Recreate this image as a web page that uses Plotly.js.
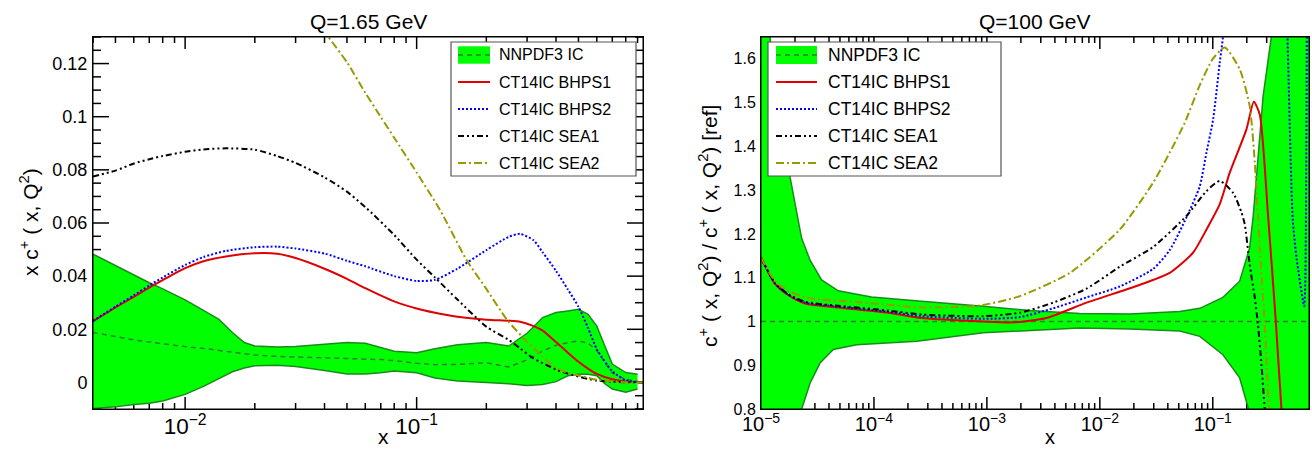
<!DOCTYPE html>
<html><head><meta charset="utf-8">
<script src="https://cdn.plot.ly/plotly-3.0.1.min.js"></script>
<style>html,body{margin:0;padding:0;background:#fff}#chart{width:1312px;height:449px}</style>
</head><body><div id="chart"></div>
<script>
// ================= DATA =================
const legendNames = ['NNPDF3 IC', 'CT14IC BHPS1', 'CT14IC BHPS2', 'CT14IC SEA1', 'CT14IC SEA2'];
const panelTitles = ['Q=1.65 GeV', 'Q=100 GeV'];

// ---- Left panel: x c+(x,Q^2) at Q = 1.65 GeV ----
const xBandLeft = [0.004, 0.005, 0.006, 0.007, 0.008, 0.01, 0.012, 0.014, 0.016, 0.018, 0.02, 0.025, 0.03, 0.04, 0.05, 0.06, 0.07, 0.08, 0.1, 0.12, 0.15, 0.2, 0.25, 0.3, 0.35, 0.4, 0.45, 0.5, 0.55, 0.6, 0.65, 0.7, 0.8, 0.9];
const nnpdfUpperLeft = [0.0483, 0.0440, 0.0404, 0.0375, 0.0352, 0.0311, 0.0271, 0.0237, 0.0188, 0.0150, 0.0137, 0.0133, 0.0135, 0.0143, 0.0150, 0.0147, 0.0131, 0.0117, 0.0112, 0.0127, 0.0142, 0.0150, 0.0137, 0.0185, 0.0244, 0.0263, 0.0269, 0.0275, 0.0256, 0.0212, 0.0137, 0.0069, 0.0037, 0.0031];
const nnpdfLowerLeft = [-0.0098, -0.0092, -0.0083, -0.0078, -0.0070, -0.0045, -0.0015, 0.0013, 0.0040, 0.0054, 0.0063, 0.0065, 0.0060, 0.0045, 0.0032, 0.0032, 0.0036, 0.0043, 0.0036, 0.0017, 0.0005, 0.0000, -0.0005, -0.0012, -0.0008, 0.0003, 0.0025, 0.0031, 0.0031, 0.0025, -0.0005, -0.0025, -0.0037, -0.0025];
const nnpdfCentralLeft = [0.0188, 0.0172, 0.0160, 0.0152, 0.0145, 0.0135, 0.0128, 0.0120, 0.0112, 0.0107, 0.0103, 0.0098, 0.0096, 0.0094, 0.0092, 0.0090, 0.0086, 0.0082, 0.0072, 0.0067, 0.0068, 0.0074, 0.0058, 0.0085, 0.0118, 0.0140, 0.0150, 0.0156, 0.0148, 0.0120, 0.0075, 0.0035, 0.0012, 0.0005];

const xCurveLeft = [0.004, 0.005, 0.006, 0.007, 0.008, 0.01, 0.012, 0.015, 0.02, 0.025, 0.03, 0.04, 0.05, 0.06, 0.08, 0.1, 0.12, 0.15, 0.2, 0.25, 0.28, 0.32, 0.35, 0.4, 0.45, 0.5, 0.55, 0.6, 0.7, 0.8, 0.95];
const bhps1Left = [0.0231, 0.0282, 0.0322, 0.0357, 0.0385, 0.0430, 0.0456, 0.0474, 0.0486, 0.0484, 0.0468, 0.0428, 0.0390, 0.0355, 0.0305, 0.0278, 0.0262, 0.0247, 0.0236, 0.0232, 0.0228, 0.0212, 0.0195, 0.0152, 0.0112, 0.0078, 0.0052, 0.0032, 0.0012, 0.0004, 0.0000];
const bhps2Left = [0.0231, 0.0285, 0.0328, 0.0365, 0.0395, 0.0442, 0.0472, 0.0495, 0.0509, 0.0511, 0.0504, 0.0485, 0.0458, 0.0437, 0.0400, 0.0382, 0.0386, 0.0428, 0.0498, 0.0548, 0.0559, 0.0535, 0.0490, 0.0420, 0.0350, 0.0285, 0.0205, 0.0125, 0.0042, 0.0008, 0.0000];
const sea1Left = [0.0775, 0.0797, 0.0824, 0.0840, 0.0852, 0.0868, 0.0877, 0.0881, 0.0876, 0.0852, 0.0826, 0.0772, 0.0718, 0.0660, 0.0555, 0.0462, 0.0395, 0.0312, 0.0210, 0.0160, 0.0128, 0.0090, 0.0073, 0.0048, 0.0033, 0.0022, 0.0013, 0.0007, 0.0003, 0.0001, 0.0000];
const xSea2Left = [0.03, 0.035, 0.0416, 0.05, 0.06, 0.07, 0.08, 0.1, 0.126, 0.164, 0.2, 0.245, 0.302, 0.35, 0.389, 0.45, 0.508, 0.6, 0.7, 0.8, 0.95];
const sea2Left = [0.148, 0.1395, 0.130, 0.1205, 0.109, 0.0999, 0.0921, 0.0790, 0.0650, 0.0462, 0.0352, 0.0237, 0.0150, 0.0098, 0.0062, 0.0035, 0.0025, 0.0010, 0.0004, 0.0001, 0.0000];

// ---- Right panel: c+(x,Q^2)/c+(x,Q^2)[ref] at Q = 100 GeV ----
const xUpperRight = [1.0e-5, 1.2e-5, 1.41e-5, 1.81e-5, 2.14e-5, 2.29e-5, 2.72e-5, 3.44e-5, 4.83e-5, 9.5e-5, 2.64e-4, 9.3e-4, 2.4e-3, 6.65e-3, 0.0184, 0.051, 0.0767, 0.123, 0.173, 0.212, 0.228, 0.251, 0.279, 0.331, 0.5, 0.711];
const nnpdfUpperRight = [1.82, 1.653, 1.50, 1.329, 1.233, 1.19, 1.14, 1.095, 1.07, 1.056, 1.046, 1.035, 1.025, 1.018, 1.017, 1.023, 1.030, 1.055, 1.092, 1.168, 1.241, 1.363, 1.515, 1.653, 2.2, 2.5];
const xLowerRight = [1.0e-5, 1.78e-5, 2.29e-5, 2.72e-5, 3.33e-5, 4.37e-5, 7.03e-5, 2.4e-4, 9.29e-4, 2.4e-3, 6.65e-3, 0.0184, 0.051, 0.0767, 0.123, 0.173, 0.206, 0.251, 0.711];
const nnpdfLowerRight = [0.2, 0.65, 0.8, 0.859, 0.905, 0.936, 0.947, 0.955, 0.974, 0.980, 0.985, 0.983, 0.978, 0.966, 0.924, 0.871, 0.802, 0.5, 0.3];
const xCentralRight = [1e-5, 1e-4, 1e-3, 1e-2, 0.1, 0.711];
const nnpdfCentralRight = [1, 1, 1, 1, 1, 1];

const xBhps1Right = [1e-5, 1.33e-5, 1.75e-5, 2.45e-5, 4.83e-5, 1.34e-4, 2.64e-4, 9.33e-4, 1.71e-3, 3.37e-3, 7.62e-3, 2.11e-2, 4.16e-2, 6.68e-2, 8.79e-2, 0.1153, 0.1413, 0.1986, 0.2307, 0.2606, 0.309, 0.3614, 0.4055, 0.501];
const bhps1Right = [1.146, 1.086, 1.060, 1.041, 1.032, 1.020, 1.008, 1.000, 0.998, 1.008, 1.043, 1.081, 1.111, 1.157, 1.210, 1.268, 1.340, 1.439, 1.502, 1.473, 1.240, 1.000, 0.800, 0.500];
const xBhps2Right = [1e-5, 1.33e-5, 1.75e-5, 2.45e-5, 4.83e-5, 1.34e-4, 2.64e-4, 9.33e-4, 1.96e-3, 3.86e-3, 7.62e-3, 1.5e-2, 2.96e-2, 4.16e-2, 5.85e-2, 7.67e-2, 8.79e-2, 0.1007, 0.1153, 0.1233, 0.1585, 0.2512, 0.398, 0.458, 0.5105, 0.5534, 0.631, 0.6457, 0.6607, 0.673, 0.684];
const bhps2Right = [1.146, 1.087, 1.061, 1.043, 1.034, 1.022, 1.012, 1.006, 1.010, 1.030, 1.055, 1.080, 1.120, 1.163, 1.238, 1.309, 1.386, 1.462, 1.592, 1.653, 2.2, 3.0, 2.2, 1.653, 1.233, 1.142, 1.045, 1.035, 1.10, 1.40, 1.80];
const xSea1Right = [1e-5, 1.33e-5, 1.75e-5, 2.45e-5, 4.83e-5, 1.34e-4, 2.64e-4, 9.33e-4, 1.96e-3, 3.86e-3, 7.62e-3, 1.5e-2, 2.96e-2, 5.85e-2, 8.79e-2, 0.1153, 0.1514, 0.1795, 0.1919, 0.2123, 0.2355, 0.2512, 0.2698, 0.2884, 0.3548];
const sea1Right = [1.146, 1.088, 1.062, 1.045, 1.036, 1.025, 1.016, 1.012, 1.020, 1.043, 1.075, 1.125, 1.170, 1.241, 1.298, 1.321, 1.294, 1.249, 1.222, 1.130, 1.054, 0.993, 0.901, 0.800, 0.500];
const xSea2Right = [1e-5, 1.33e-5, 1.75e-5, 2.45e-5, 3.44e-5, 6.79e-5, 2.64e-4, 8.91e-4, 1.96e-3, 5.43e-3, 1.5e-2, 2.96e-2, 4.16e-2, 5.65e-2, 7.67e-2, 0.1, 0.1276, 0.1734, 0.2123, 0.2355, 0.2512, 0.2606, 0.2884, 0.3148, 0.398];
const sea2Right = [1.146, 1.092, 1.070, 1.055, 1.050, 1.045, 1.032, 1.037, 1.058, 1.111, 1.210, 1.317, 1.386, 1.454, 1.540, 1.600, 1.626, 1.576, 1.492, 1.363, 1.241, 1.168, 0.993, 0.800, 0.500];

// ================= STYLE =================
const FONT = 'Liberation Sans, Arial, Helvetica, sans-serif';
const W = 1312, H = 449, TOP = 37, BOTTOM = 40;
const PLOT_H = H - TOP - BOTTOM;
const GREEN = '#00ff00', EDGE = '#1a8c1a', CENTRAL = '#2f7f2f';
const RED = '#e00000', BLUE = '#0000ff', BLACK = '#000000', OLIVE = '#999900';
const DASH = {
  central: '5px,4px',
  bhps1: 'solid',
  bhps2: '2px,2px',
  sea1: '6px,3px,2px,3px,2px,3px',
  sea2: '8px,3px,2px,3px'
};
const COLORS = [GREEN, RED, BLUE, BLACK, OLIVE];
const DASHES = [DASH.central, DASH.bhps1, DASH.bhps2, DASH.sea1, DASH.sea2];

const leftPx = [93, 643], rightPx = [761, 1309];
const leftXRange = [Math.log10(0.004), Math.log10(0.95)], leftYRange = [-0.01, 0.13];
const rightXRange = [-5, Math.log10(0.711)], rightYRange = [0.8, 1.65];

function band(xl, lo, xu, up, xc, ce, xa, ya) {
  return [
    {x: xl, y: lo, xaxis: xa, yaxis: ya, mode: 'lines', line: {color: EDGE, width: 1.5}, showlegend: false, hoverinfo: 'skip'},
    {x: xu, y: up, xaxis: xa, yaxis: ya, mode: 'lines', fill: 'tonexty', fillcolor: GREEN, line: {color: EDGE, width: 1.5}, showlegend: false, hoverinfo: 'skip'},
    {x: xc, y: ce, xaxis: xa, yaxis: ya, mode: 'lines', line: {color: CENTRAL, width: 1.5, dash: DASH.central}, showlegend: false, hoverinfo: 'skip'}
  ];
}
function curve(x, y, color, dash, xa, ya) {
  return {x: x, y: y, xaxis: xa, yaxis: ya, mode: 'lines', line: {color: color, width: 2, dash: dash, shape: 'spline', smoothing: 0.6}, showlegend: false, hoverinfo: 'skip'};
}

// ---- ROOT-style tick marks (inside, all four sides), drawn before the band so the band hides them ----
function logTicks(lo, hi) {
  const major = [], minor = [];
  for (let e = Math.floor(Math.log10(lo)); e <= Math.ceil(Math.log10(hi)); e++) {
    for (let d = 1; d <= 9; d++) {
      const v = d * Math.pow(10, e);
      if (v < lo * 0.999 || v > hi * 1.001) continue;
      (d === 1 ? major : minor).push(v);
    }
  }
  return {major, minor};
}
function linTicks(iLo, iHi, step, every) {
  const major = [], minor = [];
  for (let i = iLo; i <= iHi; i++) ((i % every === 0) ? major : minor).push(+(i * step).toFixed(4));
  return {major, minor};
}
function tickTrace(xa, ya, plotPx, xRange, yRange, xt, yt) {
  const wpx = plotPx[1] - plotPx[0];
  const perPxX = (xRange[1] - xRange[0]) / wpx;
  const perPxY = (yRange[1] - yRange[0]) / PLOT_H;
  const xs = [], ys = [];
  [[xt.major, 12], [xt.minor, 6]].forEach(([vals, len]) => vals.forEach(v => {
    xs.push(v, v, null, v, v, null);
    ys.push(yRange[0], yRange[0] + len * perPxY, null, yRange[1], yRange[1] - len * perPxY, null);
  }));
  const xl = Math.pow(10, xRange[0]), xh = Math.pow(10, xRange[1]);
  [[yt.major, 16], [yt.minor, 8]].forEach(([vals, len]) => vals.forEach(v => {
    xs.push(xl, Math.pow(10, xRange[0] + len * perPxX), null, xh, Math.pow(10, xRange[1] - len * perPxX), null);
    ys.push(v, v, null, v, v, null);
  }));
  return {x: xs, y: ys, xaxis: xa, yaxis: ya, mode: 'lines', line: {color: '#000', width: 1.5}, connectgaps: false,
    showlegend: false, hoverinfo: 'skip'};
}

const traces = [].concat(
  [tickTrace('x', 'y', leftPx, leftXRange, leftYRange, logTicks(0.004, 0.95), linTicks(-2, 26, 0.005, 4))],
  band(xBandLeft, nnpdfLowerLeft, xBandLeft, nnpdfUpperLeft, xBandLeft, nnpdfCentralLeft, 'x', 'y'),
  [curve(xCurveLeft, bhps1Left, RED, DASH.bhps1, 'x', 'y'),
   curve(xCurveLeft, bhps2Left, BLUE, DASH.bhps2, 'x', 'y'),
   curve(xCurveLeft, sea1Left, BLACK, DASH.sea1, 'x', 'y'),
   curve(xSea2Left, sea2Left, OLIVE, DASH.sea2, 'x', 'y')],
  [tickTrace('x2', 'y2', rightPx, rightXRange, rightYRange, logTicks(1e-5, 0.711), linTicks(40, 82, 0.02, 5))],
  band(xLowerRight, nnpdfLowerRight, xUpperRight, nnpdfUpperRight, xCentralRight, nnpdfCentralRight, 'x2', 'y2'),
  [curve(xBhps1Right, bhps1Right, RED, DASH.bhps1, 'x2', 'y2'),
   curve(xBhps2Right, bhps2Right, BLUE, DASH.bhps2, 'x2', 'y2'),
   curve(xSea1Right, sea1Right, BLACK, DASH.sea1, 'x2', 'y2'),
   curve(xSea2Right, sea2Right, OLIVE, DASH.sea2, 'x2', 'y2')]
);

function xAxis(domain, range, fontSize, anchor) {
  return {type: 'log', domain: domain, range: range, anchor: anchor, dtick: 1, exponentformat: 'power',
    showgrid: false, zeroline: false, showline: true, linecolor: '#000', linewidth: 1, mirror: true,
    ticks: '', ticklabelstandoff: -2,
    tickfont: {family: FONT, size: fontSize, color: '#000'}};
}
function yAxis(range, dtick, fontSize, anchor) {
  return {range: range, anchor: anchor, domain: [0, 1], dtick: dtick, showgrid: false, zeroline: false,
    showline: true, linecolor: '#000', linewidth: 1, mirror: true, ticks: '', ticklabelstandoff: 1,
    tickfont: {family: FONT, size: fontSize, color: '#000'}};
}

const px2paper = p => p / W;
const py2paper = p => (H - BOTTOM - p) / PLOT_H;
const shapes = [], annotations = [];

function frame(xr, yr) {
  shapes.push({type: 'rect', xref: xr, yref: yr, x0: 0, x1: 1, y0: 0, y1: 1, line: {color: '#000', width: 1}, fillcolor: 'rgba(0,0,0,0)', layer: 'above'});
}
function legend(xr, yr, plotPx, box, sample, textX, boxHalfH, fontSize) {
  const wpx = plotPx[1] - plotPx[0];
  const dx = p => (p - plotPx[0]) / wpx;
  const dy = p => (H - BOTTOM - p) / PLOT_H;
  shapes.push({type: 'rect', xref: xr, yref: yr, x0: dx(box[0]), x1: dx(box[1]), y0: dy(box[3]), y1: dy(box[2]),
    fillcolor: '#fff', line: {color: '#555', width: 1.2}, layer: 'above'});
  const rows = [55, 82, 109, 136, 163];
  legendNames.forEach((name, i) => {
    const yy = dy(rows[i]);
    if (i === 0) {
      shapes.push({type: 'rect', xref: xr, yref: yr, x0: dx(sample[0]), x1: dx(sample[1]), y0: dy(rows[i] + boxHalfH), y1: dy(rows[i] - boxHalfH),
        fillcolor: GREEN, line: {width: 0}, layer: 'above'});
      shapes.push({type: 'line', xref: xr, yref: yr, x0: dx(sample[0]), x1: dx(sample[1]), y0: yy, y1: yy,
        line: {color: CENTRAL, width: 1.5, dash: DASH.central}, layer: 'above'});
    } else {
      shapes.push({type: 'line', xref: xr, yref: yr, x0: dx(sample[0]), x1: dx(sample[1]), y0: yy, y1: yy,
        line: {color: COLORS[i], width: 2, dash: DASHES[i]}, layer: 'above'});
    }
    annotations.push({xref: xr, yref: yr, x: dx(textX), y: yy, xanchor: 'left', yanchor: 'middle', showarrow: false,
      text: name, font: {family: FONT, size: fontSize, color: '#000'}});
  });
}
frame('x domain', 'y domain');
frame('x2 domain', 'y2 domain');
legend('x domain', 'y domain', leftPx, [451, 636, 42, 176], [458, 490], 497, 8.7, 16);
legend('x2 domain', 'y2 domain', rightPx, [768, 1001, 42, 176], [776, 817], 826, 9, 17.5);

function txt(text, xpx, ypx, size, angle) {
  annotations.push({xref: 'paper', yref: 'paper', x: px2paper(xpx), y: py2paper(ypx), xanchor: 'center', yanchor: 'middle',
    showarrow: false, text: text, textangle: angle || 0, font: {family: FONT, size: size, color: '#000'}});
}
txt(panelTitles[0], 368, 21, 21);
txt(panelTitles[1], 1035, 21, 21);
txt('x', 383, 436, 21);
txt('x', 1050, 437, 20);
txt('x c<sup>+</sup> ( x, Q<sup>2</sup>)', 29, 222, 21, -90);
txt('c<sup>+</sup> ( x, Q<sup>2</sup>) / c<sup>+</sup> ( x, Q<sup>2</sup>) [ref]', 708, 226, 21, -90);

const layout = {
  width: W, height: H, margin: {l: 0, r: 0, t: TOP, b: BOTTOM, pad: 0},
  paper_bgcolor: '#fff', plot_bgcolor: '#fff', showlegend: false,
  font: {family: FONT, color: '#000'},
  xaxis: xAxis([leftPx[0] / W, leftPx[1] / W], leftXRange, 18, 'y'),
  yaxis: yAxis(leftYRange, 0.02, 18, 'x'),
  xaxis2: xAxis([rightPx[0] / W, rightPx[1] / W], rightXRange, 16, 'y2'),
  yaxis2: yAxis(rightYRange, 0.1, 16, 'x2'),
  shapes: shapes, annotations: annotations
};
Plotly.newPlot('chart', traces, layout, {staticPlot: true, displayModeBar: false});
</script></body></html>
